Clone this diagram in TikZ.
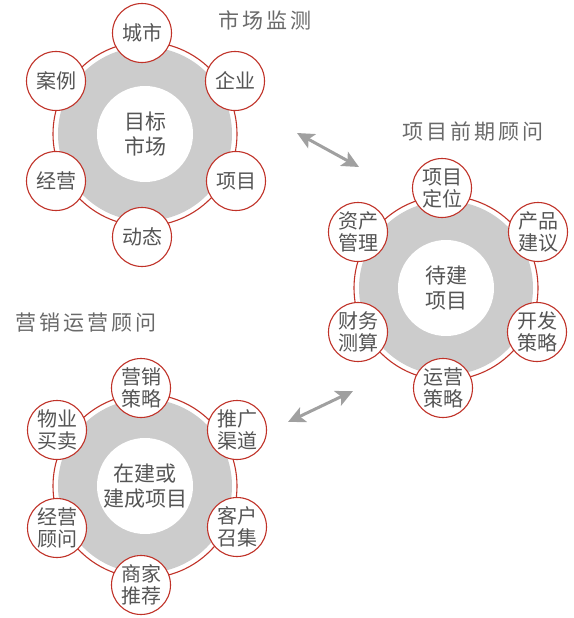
\documentclass[tikz,border=0pt]{standalone}
\usepackage{fontspec}
\setmainfont{Noto Sans CJK SC}
\newfontfamily\titlefont[LetterSpace=14]{Noto Sans CJK SC}
\usepackage{tikz}
\usetikzlibrary{arrows.meta,calc}
\definecolor{ringred}{RGB}{192,50,40}
\definecolor{ringgray}{RGB}{204,204,204}
\definecolor{txtgray}{RGB}{85,85,85}
\definecolor{titlegray}{RGB}{105,105,105}
\definecolor{arrowgray}{RGB}{160,160,160}

\tikzset{
  sat/.style={circle,draw=ringred,line width=1.1pt,fill=white,minimum size=59pt,
    inner sep=0pt,align=center,text=txtgray,font=\fontsize{20}{22}\selectfont},
  hub/.style={circle,fill=white,minimum size=96pt,inner sep=0pt,align=center,
    text=txtgray,font=\fontsize{21}{25}\selectfont},
  grouptitle/.style={text=titlegray,font=\titlefont\fontsize{21}{22}\selectfont},
  link/.style={{Stealth[length=17pt,width=16pt,inset=4pt]}-{Stealth[length=17pt,width=16pt,inset=4pt]},
    line width=3pt,arrowgray}
}

\begin{document}
\begin{tikzpicture}[x=1pt,y=-1pt]
  \useasboundingbox (0,0) rectangle (573,618);

  % Ring A: target market
  \coordinate (A) at (145,134);
  \fill[ringgray] (A) circle (87pt);
  \draw[ringred,line width=1.1pt] (A) circle (92pt);
  \node[hub] (Ahub) at (A) {目标\\市场};
  \node[sat] (Acity) at (142,33) {城市};
  \node[sat] (Afirm) at (235,81) {企业};
  \node[sat] (Aproj) at (236,181) {项目};
  \node[sat] (Atrend) at (142,237) {动态};
  \node[sat] (Aoper) at (56,181) {经营};
  \node[sat] (Acase) at (56,81) {案例};
  \node[grouptitle] (Atitle) at (265,20) {市场监测};

  % Ring B: project to be built
  \coordinate (B) at (446,288);
  \fill[ringgray] (B) circle (87pt);
  \draw[ringred,line width=1.1pt] (B) circle (92pt);
  \node[hub] (Bhub) at (B) {待建\\项目};
  \node[sat] (Bpos) at (442,188) {项目\\定位};
  \node[sat] (Bprod) at (538,232) {产品\\建议};
  \node[sat] (Bdev) at (537,332) {开发\\策略};
  \node[sat] (Bops) at (443,388) {运营\\策略};
  \node[sat] (Bfin) at (358,332) {财务\\测算};
  \node[sat] (Basset) at (358,232) {资产\\管理};
  \node[grouptitle] (Btitle) at (473,132) {项目前期顾问};

  % Ring C: projects under construction or built
  \coordinate (C) at (145,486);
  \fill[ringgray] (C) circle (87pt);
  \draw[ringred,line width=1.1pt] (C) circle (92pt);
  \node[hub] (Chub) at (C) {在建或\\建成项目};
  \node[sat] (Cmkt) at (141,388) {营销\\策略};
  \node[sat] (Cchan) at (237,430) {推广\\渠道};
  \node[sat] (Ccust) at (237,527) {客户\\召集};
  \node[sat] (Cshop) at (141,585) {商家\\推荐};
  \node[sat] (Cmgmt) at (57,528) {经营\\顾问};
  \node[sat] (Cprop) at (57,430) {物业\\买卖};
  \node[grouptitle] (Ctitle) at (86,323) {营销运营顾问};

  % Links between groups
  \coordinate (AB1) at (297,133);
  \coordinate (AB2) at (359,167);
  \draw[link] (AB1) -- (AB2);
  \coordinate (BC1) at (353,391);
  \coordinate (BC2) at (288,422);
  \draw[link] (BC1) -- (BC2);
\end{tikzpicture}
\end{document}
